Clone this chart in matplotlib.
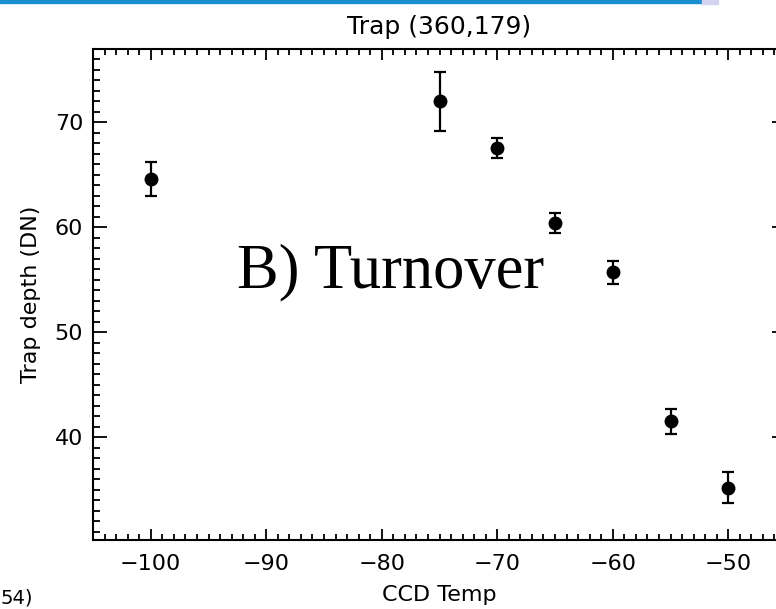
import matplotlib
matplotlib.use("Agg")
import matplotlib.pyplot as plt
from matplotlib.patches import Rectangle
from matplotlib.ticker import MultipleLocator

# measured trap depth vs CCD temperature
ccd_temp = [-100, -75, -70, -65, -60, -55, -50]
trap_depth = [64.6, 72.0, 67.6, 60.4, 55.7, 41.5, 35.2]
depth_err = [1.6, 2.8, 0.95, 0.95, 1.1, 1.15, 1.45]

W, H = 776, 609
fig = plt.figure(figsize=(W / 100, H / 100), dpi=100)

# slide header bar (cropped)
fig.patches.append(Rectangle((0, 1 - 3 / H), 702 / W, 3 / H, transform=fig.transFigure,
                             color='#1a8fd0', zorder=0))
fig.patches.append(Rectangle((702 / W, 1 - 4 / H), 16 / W, 4 / H, transform=fig.transFigure,
                             color='#d4d4f2', zorder=0))

ax = fig.add_axes([93 / W, (H - 540) / H, (786 - 93) / W, (540 - 49) / H])

ax.errorbar(ccd_temp, trap_depth, yerr=depth_err, fmt='o', color='black',
            markersize=9, elinewidth=1.6, capsize=4, capthick=1.6)

ax.set_xlim(-105, -45)
ax.set_ylim(30.2, 77)
ax.xaxis.set_major_locator(MultipleLocator(10))
ax.xaxis.set_minor_locator(MultipleLocator(1))
ax.yaxis.set_major_locator(MultipleLocator(10))
ax.yaxis.set_minor_locator(MultipleLocator(1))

for s in ax.spines.values():
    s.set_linewidth(1.5)
ax.tick_params(axis='both', which='both', direction='in', top=True, right=True,
               width=1.3, labelsize=16, colors='black')
ax.tick_params(axis='x', which='major', length=8, pad=10)
ax.tick_params(axis='x', which='minor', length=4)
ax.tick_params(axis='y', which='major', length=10, pad=7)
ax.tick_params(axis='y', which='minor', length=5)

ax.set_title('Trap (360,179)', fontsize=18, pad=11)
ax.set_xlabel('CCD Temp', fontsize=16, labelpad=8)
ax.set_ylabel('Trap depth (DN)', fontsize=16, labelpad=10)

fig.text(237 / W, (H - 287) / H, 'B) Turnover', fontsize=45,
         family=['Liberation Serif', 'DejaVu Serif'], ha='left', va='baseline')
fig.text(1 / W, 1 / H, '54)', fontsize=14, ha='left', va='bottom')

fig.savefig('out.png', dpi=100)
